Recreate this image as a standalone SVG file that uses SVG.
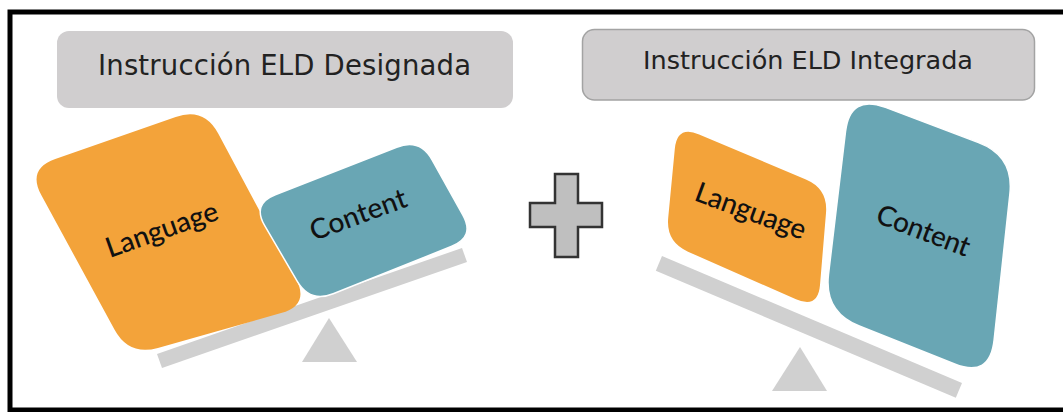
<svg xmlns="http://www.w3.org/2000/svg" width="1063" height="412" viewBox="0 0 1063 412">
<style>
.title{font-family:"DejaVu Sans",Verdana,sans-serif;fill:#222;text-anchor:middle}
.lbl{font-family:Lato,"Open Sans",sans-serif;fill:#111;text-anchor:middle;font-weight:500}
.beam{fill:#d0d0d0}
.lang{fill:#f3a33a}
.cont{fill:#69a6b4;stroke:#fff;stroke-width:1.5}
.box{fill:#d0cecf}
</style>
<rect x="10" y="12" width="1062" height="398" fill="#fff" stroke="#000" stroke-width="5"/>
<g id="left-scale">
  <polygon class="beam" points="157,354 462,248 467,262 162,368"/>
  <polygon class="beam" points="329,318 302,362 357,362"/>
</g>
<g id="left-language">
  <path class="lang" d="M55.3,159.1 L175.7,116.9 Q204,107 218.2,133.5 L295.8,278.5 Q310,305 281.1,313.1 L157.9,347.9 Q129,356 114.6,329.7 L41.4,195.3 Q27,169 55.3,159.1 Z"/>
  <text class="lbl" x="165" y="238.5" font-size="28" textLength="117" transform="rotate(-19.5 165 238.5)">Language</text>
</g>
<g id="left-content">
  <path class="cont" d="M275.3,194.8 L396.7,147.2 Q420,138 432.1,159.9 L462.9,215.1 Q475,237 451.8,246.3 L333.2,293.7 Q310,303 297.3,281.4 L264.7,225.6 Q252,204 275.3,194.8 Z"/>
  <text class="lbl" x="361.5" y="223.5" font-size="28" textLength="101" transform="rotate(-20.2 361.5 223.5)">Content</text>
</g>
<g id="plus">
  <polygon points="555,174 578,174 578,203 602,203 602,227 578,227 578,257 555,257 555,227 530,227 530,203 555,203" fill="#bfbfbf" stroke="#333" stroke-width="2.5" stroke-linejoin="miter"/>
</g>
<g id="right-scale">
  <polygon class="beam" points="662,256 962,383 955.8,397.7 655.8,270.7"/>
  <polygon class="beam" points="800,347 772,391 827,391"/>
</g>
<g id="right-language">
  <path class="lang" d="M699.1,134.4 L805.9,179.6 Q828,189 826,212.9 L820,285.1 Q818,309 796,299.3 L688,251.7 Q666,242 668.2,218.1 L674.8,148.9 Q677,125 699.1,134.4 Z"/>
  <text class="lbl" x="747.5" y="220" font-size="28" textLength="116" transform="rotate(20.1 747.5 220)">Language</text>
</g>
<g id="right-content">
  <path class="cont" d="M885.5,107.4 L978.5,142.6 Q1014,156 1009.9,193.8 L994.1,340.2 Q990,378 954.7,364 L859.3,326 Q824,312 828.5,274.3 L845.5,131.7 Q850,94 885.5,107.4 Z"/>
  <text class="lbl" x="920" y="239.5" font-size="28" textLength="98" transform="rotate(20.8 920 239.5)">Content</text>
</g>
<g id="title-designada">
  <rect class="box" x="57" y="31" width="456" height="77" rx="12"/>
  <text class="title" x="284.5" y="75" font-size="27.5" textLength="373">Instrucción ELD Designada</text>
</g>
<g id="title-integrada">
  <rect class="box" x="582.5" y="29.5" width="452" height="70.5" rx="12" stroke="#a3a3a3" stroke-width="1.5"/>
  <text class="title" x="808" y="69" font-size="25.5" textLength="330">Instrucción ELD Integrada</text>
</g>
</svg>
